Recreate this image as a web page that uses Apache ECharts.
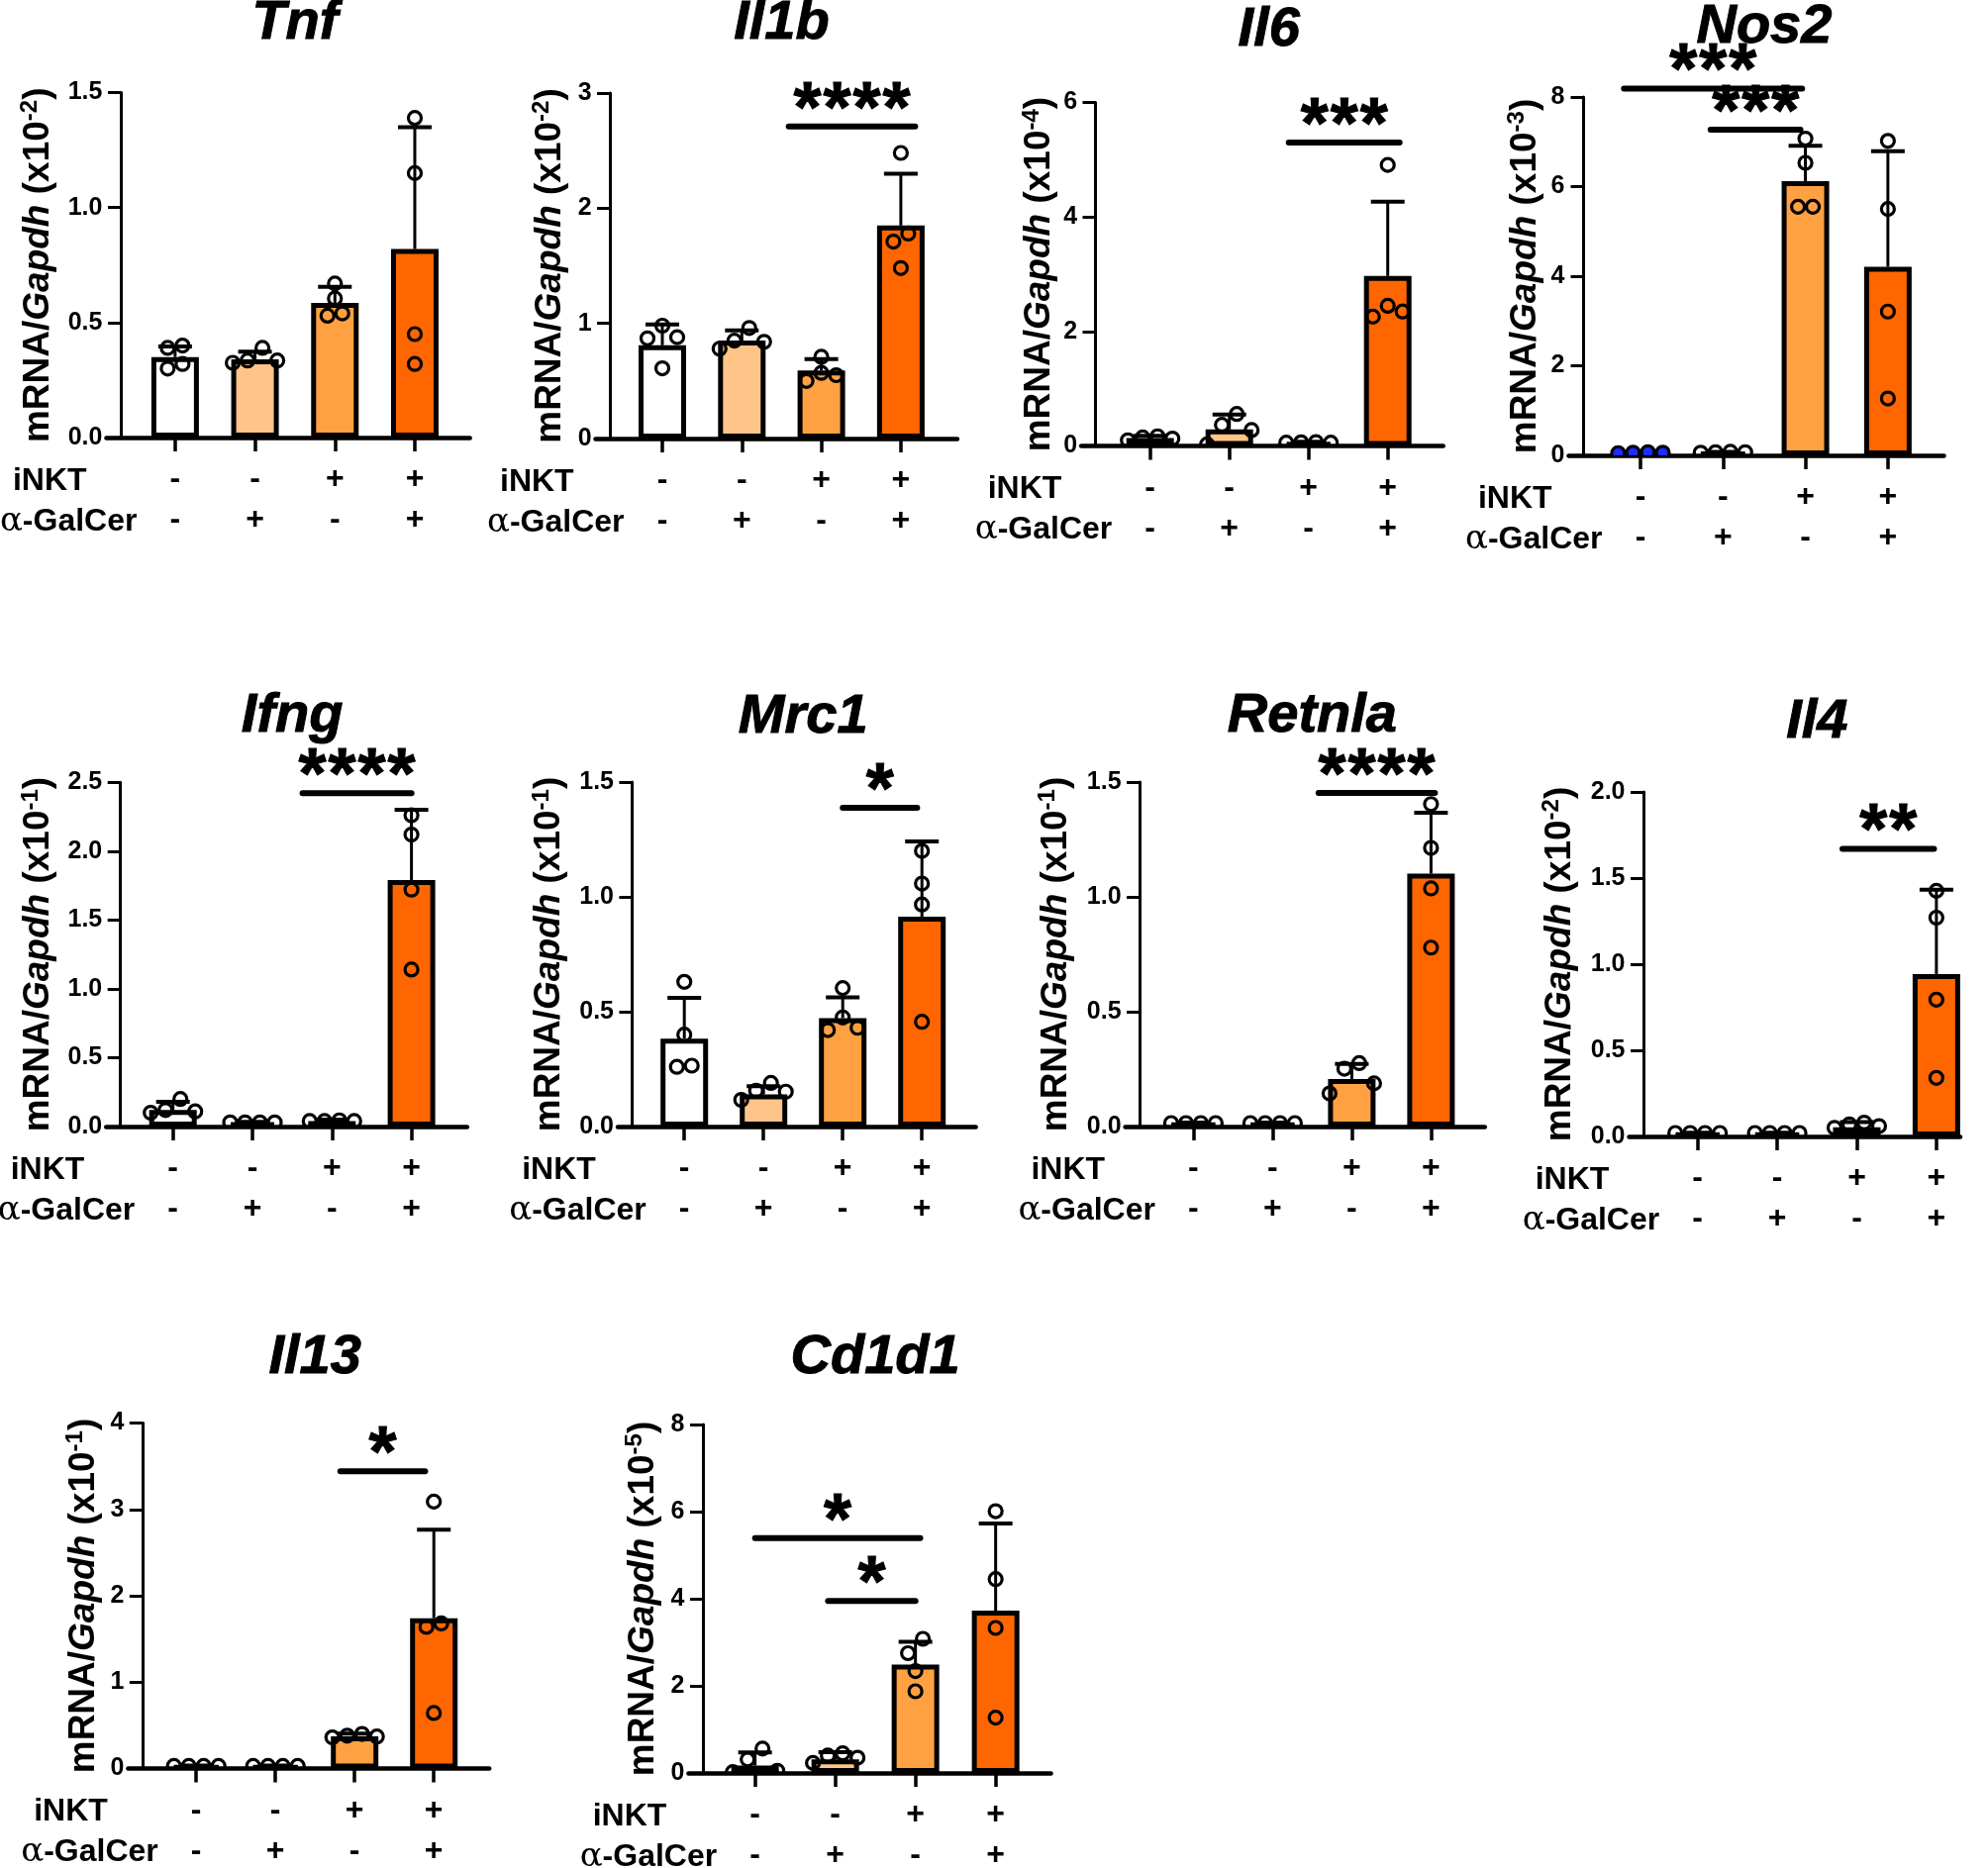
<!DOCTYPE html>
<html>
<head>
<meta charset="utf-8">
<script src="https://cdn.jsdelivr.net/npm/echarts@6/dist/echarts.min.js"></script>
<style>
html, body { margin: 0; padding: 0; background: #fff; }
#chart { width: 2008px; height: 1887px; }
</style>
</head>
<body>
<div id="chart"></div>
<script>
// group labels under each bar
var inktRow = ['-', '-', '+', '+'];
var galcerRow = ['-', '+', '-', '+'];

var genes = ['Tnf', 'Il1b', 'Il6', 'Nos2', 'Ifng', 'Mrc1', 'Retnla', 'Il4', 'Il13', 'Cd1d1'];
var exponents = [-2, -2, -4, -3, -1, -1, -1, -2, -1, -5];
var yMax = [1.5, 3, 6, 8, 2.5, 1.5, 1.5, 2.0, 4, 8];
var yStep = [0.5, 1, 2, 2, 0.5, 0.5, 0.5, 0.5, 1, 2];
var yDecimals = [1, 0, 0, 0, 1, 1, 1, 1, 0, 0];

// mean, SD and single points (4 mice per group)
var tnfMean = [0.35, 0.34, 0.585, 0.82];
var tnfSd = [0.046, 0.034, 0.07, 0.53];
var tnfPts = [[0.30, 0.39, 0.40, 0.32], [0.39, 0.325, 0.335, 0.335], [0.53, 0.54, 0.605, 0.67], [1.39, 1.15, 0.45, 0.32]];

var il1bMean = [0.81, 0.85, 0.59, 1.85];
var il1bSd = [0.18, 0.09, 0.10, 0.45];
var il1bPts = [[0.98, 0.87, 0.88, 0.61], [0.78, 0.85, 0.96, 0.84], [0.50, 0.57, 0.71, 0.55], [2.48, 1.78, 1.71, 1.48]];

var il6Mean = [0.14, 0.29, 0.065, 2.97];
var il6Sd = [0.04, 0.26, 0.01, 1.30];
var il6Pts = [[0.10, 0.17, 0.15, 0.13], [0.37, 0.03, 0.56, 0.28], [0.06, 0.065, 0.06, 0.07], [2.26, 2.45, 2.35, 4.91]];

var nos2Mean = [0.06, 0.07, 6.12, 4.21];
var nos2Sd = [0.01, 0.01, 0.79, 2.58];
var nos2Pts = [[0.05, 0.06, 0.07, 0.06], [0.07, 0.08, 0.07, 0.06], [5.55, 5.55, 6.53, 7.07], [7.02, 5.50, 3.21, 1.27]];

var ifngMean = [0.12, 0.03, 0.04, 1.79];
var ifngSd = [0.06, 0.005, 0.01, 0.51];
var ifngPts = [[0.10, 0.12, 0.11, 0.20], [0.03, 0.03, 0.03, 0.03], [0.04, 0.045, 0.04, 0.04], [2.26, 2.12, 1.72, 1.14]];

var mrc1Mean = [0.383, 0.14, 0.472, 0.914];
var mrc1Sd = [0.177, 0.036, 0.091, 0.327];
var mrc1Pts = [[0.63, 0.40, 0.26, 0.265], [0.116, 0.152, 0.156, 0.19], [0.603, 0.475, 0.42, 0.43], [1.20, 1.058, 0.967, 0.456]];

var retnlaMean = [0.015, 0.015, 0.207, 1.101];
var retnlaSd = [0.002, 0.002, 0.066, 0.265];
var retnlaPts = [[0.015, 0.015, 0.015, 0.015], [0.015, 0.015, 0.015, 0.015], [0.252, 0.144, 0.276, 0.188], [1.404, 1.213, 1.037, 0.779]];

var il4Mean = [0.02, 0.02, 0.053, 0.943];
var il4Sd = [0.002, 0.002, 0.03, 0.489];
var il4Pts = [[0.02, 0.02, 0.02, 0.02], [0.02, 0.02, 0.02, 0.02], [0.05, 0.08, 0.06, 0.07], [1.426, 1.27, 0.794, 0.34]];

var il13Mean = [0.03, 0.03, 0.373, 1.74];
var il13Sd = [0.003, 0.003, 0.03, 1.025];
var il13Pts = [[0.03, 0.03, 0.03, 0.03], [0.03, 0.03, 0.03, 0.03], [0.36, 0.40, 0.38, 0.37], [3.09, 1.68, 1.64, 0.643]];

var cd1d1Mean = [0.17, 0.31, 2.49, 3.725];
var cd1d1Sd = [0.30, 0.17, 0.52, 2.0];
var cd1d1Pts = [[0.02, 0.05, 0.31, 0.56], [0.35, 0.45, 0.40, 0.23], [3.08, 2.75, 2.34, 1.875], [6.01, 4.45, 3.33, 1.27]];

// significance brackets: [from group, to group, height, number of stars]
var tnfSig = [];
var il1bSig = [[1.59, 3.18, 2.71, 4]];
var il6Sig = [[1.75, 3.15, 5.30, 3]];
var nos2Sig = [[-0.2, 1.96, 8.19, 3], [0.85, 1.94, 7.27, 3]];
var ifngSig = [[1.63, 3.0, 2.42, 4]];
var mrc1Sig = [[2.0, 2.94, 1.388, 1]];
var retnlaSig = [[1.58, 3.05, 1.453, 4]];
var il4Sig = [[1.82, 2.97, 1.669, 2]];
var il13Sig = [[1.82, 2.89, 3.44, 1]];
var cd1d1Sig = [[0.0, 2.06, 5.39, 1], [0.91, 2.0, 3.95, 1]];

var allMean = [tnfMean, il1bMean, il6Mean, nos2Mean, ifngMean, mrc1Mean, retnlaMean, il4Mean, il13Mean, cd1d1Mean];
var allSd = [tnfSd, il1bSd, il6Sd, nos2Sd, ifngSd, mrc1Sd, retnlaSd, il4Sd, il13Sd, cd1d1Sd];
var allPts = [tnfPts, il1bPts, il6Pts, nos2Pts, ifngPts, mrc1Pts, retnlaPts, il4Pts, il13Pts, cd1d1Pts];
var allSig = [tnfSig, il1bSig, il6Sig, nos2Sig, ifngSig, mrc1Sig, retnlaSig, il4Sig, il13Sig, cd1d1Sig];

var barColors = ['#ffffff', '#ffc488', '#ffa142', '#ff6600'];

// panel placement in the page (px); off = first bar distance from the y axis, in groups
var layout = [
    {ax: 122,    step: 80.7, off: 0.68, top: 93.6,   zero: 442,    gap: 49, ty: 24,   xe: 3.69},
    {ax: 616,    step: 80.3, off: 0.66, top: 94,     zero: 443,    gap: 26, ty: 24,   xe: 3.71},
    {ax: 1106.5, step: 80,   off: 0.69, top: 103.6,  zero: 450.6,  gap: 22, ty: 31,   xe: 3.70},
    {ax: 1599.5, step: 83.3, off: 0.69, top: 98,     zero: 460,    gap: 24, ty: 28,   xe: 3.68},
    {ax: 121.7,  step: 80.3, off: 0.66, top: 790.2,  zero: 1138,   gap: 48, ty: 724,  xe: 3.70},
    {ax: 638.4,  step: 80,   off: 0.66, top: 790,    zero: 1138,   gap: 49, ty: 725,  xe: 3.68},
    {ax: 1151,   step: 80,   off: 0.68, top: 790,    zero: 1138,   gap: 50, ty: 724,  xe: 3.68},
    {ax: 1660,   step: 80.4, off: 0.68, top: 800,    zero: 1148,   gap: 50, ty: 730,  xe: 3.30},
    {ax: 143.8,  step: 80,   off: 0.68, top: 1437.5, zero: 1786.5, gap: 25, ty: 1372, xe: 3.70},
    {ax: 710,    step: 81,   off: 0.65, top: 1439,   zero: 1791,   gap: 26, ty: 1372, xe: 3.69}
];

var FONT = '"Liberation Sans", Arial, "DejaVu Sans", sans-serif';
var XMIN = -0.18;
var R = 6.5, SPREAD = 15;
var STAR_DY = 15, STAR_GAP = 30;

// spread points that would overlap (GraphPad-like column scatter)
var swarm = function(vals, pxPerUnit, stepPx){
    var idx = vals.map(function(v, i){ return i; }).sort(function(a, b){ return vals[a] - vals[b]; });
    var off = vals.map(function(){ return 0; });
    var chains = [], cur = [idx[0]];
    for (var k = 1; k < idx.length; k++) {
        if ((vals[idx[k]] - vals[idx[k - 1]]) * pxPerUnit < SPREAD) cur.push(idx[k]);
        else { chains.push(cur); cur = [idx[k]]; }
    }
    chains.push(cur);
    chains.forEach(function(ch){
        var n = ch.length;
        var slots = [];
        for (var s = 0; s < n; s++) slots.push((s - (n - 1) / 2) * SPREAD);
        slots.sort(function(a, b){ return Math.abs(b) - Math.abs(a) || a - b; });
        ch.forEach(function(pi, j){ off[pi] = slots[j] / stepPx; });
    });
    return off;
};

var grids = [], xAxes = [], yAxes = [], series = [], graphics = [];

genes.forEach(function(gene, g){
    var L = layout[g];
    var OFF = L.off;
    var xmax = OFF + L.xe;
    grids.push({
        left: L.ax + XMIN * L.step, top: L.top,
        width: (xmax - XMIN) * L.step, height: L.zero - L.top,
        containLabel: false, outerBoundsMode: 'none'
    });
    var tickVals = [0, 1, 2, 3].map(function(i){ return OFF + i; });
    xAxes.push({
        gridIndex: g, type: 'value', min: XMIN, max: xmax,
        axisLine: {onZero: true, lineStyle: {color: '#000', width: 4.5}},
        axisTick: {customValues: tickVals, length: 14, lineStyle: {color: '#000', width: 3.5}},
        axisLabel: {
            customValues: tickVals, margin: 22,
            formatter: function(v){
                var i = Math.round(v - OFF);
                return '{a|' + inktRow[i] + '}\n{a|' + galcerRow[i] + '}';
            },
            rich: {a: {fontSize: 32, fontWeight: 'bold', fontFamily: FONT, color: '#000', lineHeight: 41}}
        },
        splitLine: {show: false}
    });
    var dec = yDecimals[g];
    yAxes.push({
        gridIndex: g, type: 'value', min: 0, max: yMax[g], interval: yStep[g],
        axisLine: {show: true, onZero: true, lineStyle: {color: '#000', width: 3}},
        axisTick: {show: true, length: 13, lineStyle: {color: '#000', width: 3}},
        axisLabel: {
            margin: 4, fontSize: 25, fontWeight: 'bold', fontFamily: FONT, color: '#000',
            formatter: function(v){ return v.toFixed(dec); }
        },
        splitLine: {show: false},
        name: '{n|mRNA/}{i|Gapdh}{n| (x10}{s|' + exponents[g] + '}{n|)}',
        nameLocation: 'middle', nameRotate: 90, nameGap: L.gap, nameMoveOverlap: false,
        nameTextStyle: {
            color: '#000',
            rich: {
                n: {fontSize: 37, fontWeight: 'bold', fontFamily: FONT, color: '#000', lineHeight: 40},
                i: {fontSize: 37, fontWeight: 'bold', fontStyle: 'italic', fontFamily: FONT, color: '#000', lineHeight: 40},
                s: {fontSize: 24, fontWeight: 'bold', fontFamily: FONT, color: '#000', lineHeight: 23, verticalAlign: 'top'}
            }
        }
    });

    var means = allMean[g], sds = allSd[g], pts = allPts[g];
    series.push({
        type: 'bar', xAxisIndex: g, yAxisIndex: g, barWidth: 48, z: 2,
        data: means.map(function(m, i){
            return {value: [OFF + i, m], itemStyle: {color: barColors[i], borderColor: '#000', borderWidth: 5}};
        })
    });
    series.push({
        type: 'custom', xAxisIndex: g, yAxisIndex: g, z: 3, clip: false,
        data: means.map(function(m, i){ return [OFF + i, m, sds[i]]; }),
        renderItem: function(params, api){
            var x = api.value(0), m = api.value(1), s = api.value(2);
            var p0 = api.coord([x, m]), p1 = api.coord([x, m + s]);
            return {type: 'group', children: [
                {type: 'line', shape: {x1: p0[0], y1: p0[1], x2: p1[0], y2: p1[1]}, style: {stroke: '#000', lineWidth: 3}},
                {type: 'line', shape: {x1: p1[0] - 17, y1: p1[1], x2: p1[0] + 17, y2: p1[1]}, style: {stroke: '#000', lineWidth: 4}}
            ]};
        }
    });

    var pxPerUnit = (L.zero - L.top) / yMax[g];
    var dots = [];
    pts.forEach(function(vals, i){
        var off = swarm(vals, pxPerUnit, L.step);
        vals.forEach(function(v, j){ dots.push([OFF + i + off[j], v, i]); });
    });
    var blueFirst = gene === 'Nos2';
    series.push({
        type: 'custom', xAxisIndex: g, yAxisIndex: g, z: 4, clip: true,
        data: dots,
        renderItem: function(params, api){
            var p = api.coord([api.value(0), api.value(1)]);
            var fill = (blueFirst && api.value(2) === 0) ? '#1f2bff' : 'none';
            return {type: 'circle', shape: {cx: p[0], cy: p[1], r: R}, style: {fill: fill, stroke: '#000', lineWidth: 3.2}};
        }
    });

    var sig = allSig[g];
    if (sig.length) {
        series.push({
            type: 'custom', xAxisIndex: g, yAxisIndex: g, z: 5, clip: false,
            data: sig.map(function(s){ return [OFF + s[0], OFF + s[1], s[2], s[3]]; }),
            renderItem: function(params, api){
                var a = api.coord([api.value(0), api.value(2)]);
                var b = api.coord([api.value(1), api.value(2)]);
                var n = api.value(3);
                var cx = (a[0] + b[0]) / 2;
                var kids = [{type: 'line', shape: {x1: a[0], y1: a[1], x2: b[0], y2: b[1]},
                    style: {stroke: '#000', lineWidth: 6, lineCap: 'round'}}];
                for (var k = 0; k < n; k++) {
                    kids.push({type: 'text', x: cx + (k - (n - 1) / 2) * STAR_GAP, y: a[1] - STAR_DY,
                        style: {text: '*', fontSize: 72, fontWeight: 'bold', fontFamily: FONT, fill: '#000',
                            stroke: '#000', lineWidth: 1, align: 'center', verticalAlign: 'middle'}});
                }
                return {type: 'group', children: kids};
            }
        });
    }

    var bar1 = L.ax + OFF * L.step;
    graphics.push({type: 'text', x: L.ax + (OFF + 1.5) * L.step, y: L.ty,
        style: {text: gene, fontSize: 56, fontWeight: 'bold', fontStyle: 'italic', fontFamily: FONT,
            fill: '#000', stroke: '#000', lineWidth: 1, align: 'center', verticalAlign: 'middle'}});
    graphics.push({type: 'text', x: bar1 - 164, y: L.zero + 44,
        style: {text: 'iNKT', fontSize: 32, fontWeight: 'bold', fontFamily: FONT, fill: '#000', align: 'left', verticalAlign: 'middle'}});
    graphics.push({type: 'text', x: bar1 - 177, y: L.zero + 85,
        style: {text: '{al|α}{b|-GalCer}', align: 'left', verticalAlign: 'middle',
            rich: {
                al: {fontSize: 34, fontFamily: '"DejaVu Serif", "Liberation Serif", serif', fill: '#000'},
                b: {fontSize: 32, fontWeight: 'bold', fontFamily: FONT, fill: '#000'}
            }}});
});

var chart = echarts.init(document.getElementById('chart'));
chart.setOption({
    backgroundColor: '#fff',
    animation: false,
    grid: grids,
    xAxis: xAxes,
    yAxis: yAxes,
    series: series,
    graphic: graphics
});
</script>
</body>
</html>
